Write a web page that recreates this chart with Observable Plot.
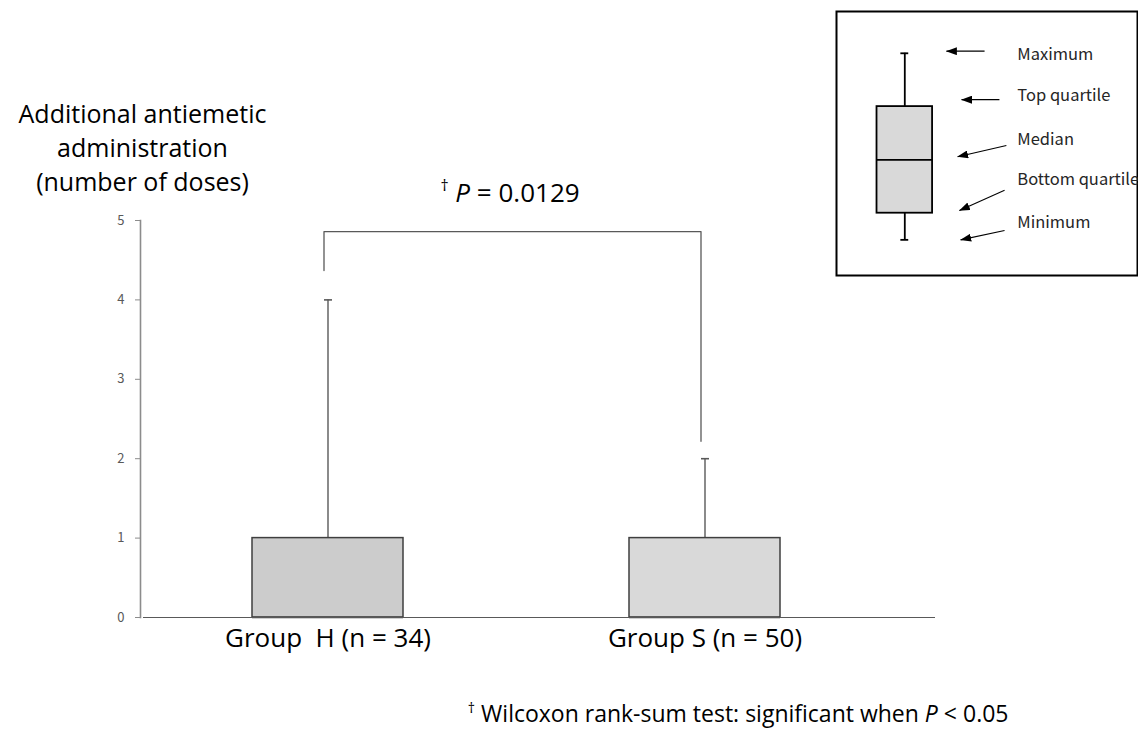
<!DOCTYPE html>
<html>
<head>
<meta charset="utf-8">
<script src="https://cdn.jsdelivr.net/npm/d3@7"></script>
<script src="https://cdn.jsdelivr.net/npm/@observablehq/plot@0.6"></script>
<style>
  html, body { margin: 0; padding: 0; background: #fff; }
  #wrap { position: relative; width: 1138px; height: 741px; overflow: hidden; background: #fff; }
  #main { position: absolute; left: 0; top: 0; }
  #legend { position: absolute; left: 835px; top: 10px; }
  svg text { white-space: pre; }
</style>
</head>
<body>
<div id="wrap"><div id="main"></div><div id="legend"></div></div>
<script>
// ---------- data ----------
const groups = ["Group  H (n = 34)", "Group S (n = 50)"];
const mins = [0, 0];
const q1s = [0, 0];
const medians = [0, 0];
const q3s = [1, 1];
const maxs = [4, 2];
const boxFills = ["#cccccc", "#d9d9d9"];
const yTicks = [0, 1, 2, 3, 4, 5];

// significance bracket (y in data units: left end, top, top, right end)
const bracketGroups = [groups[0], groups[0], groups[1], groups[1]];
const bracketValues = [4.37, 4.86, 4.86, 2.22];
const pValueText = "† P = 0.0129";
const yLabelText = "Additional antiemetic\nadministration\n(number of doses)";
const footnoteText = "† Wilcoxon rank-sum test: significant when P < 0.05";

// schematic legend (box-plot key), values in schematic units
const legendNames = ["Maximum", "Top quartile", "Median", "Bottom quartile", "Minimum"];
const legendStats = [4, 3, 2, 1, 0.5];
const legendTailX = [4.92, 5.41, 5.64, 5.58, 5.58];
const legendTailY = [4.04, 3.13, 2.27, 1.43, 0.675];
const legendTipX = [3.66, 4.16, 4.03, 4.09, 4.13];
const legendTipY = [4.04, 3.13, 2.06, 1.05, 0.50];
const legendTextY = [3.98, 3.21, 2.38, 1.62, 0.83];

// ---------- tables ----------
const stats = groups.map((g, i) => ({
  group: g, min: mins[i], q1: q1s[i], median: medians[i], q3: q3s[i], max: maxs[i], fill: boxFills[i]
}));
const bracket = bracketGroups.map((g, i) => ({group: g, value: bracketValues[i]}));

const font = "'Open Sans', sans-serif";
const smallFont = "'Noto Sans CJK JP', 'Noto Sans', sans-serif";

const main = Plot.plot({
  width: 1138,
  height: 741,
  marginTop: 220,
  marginBottom: 124,
  marginLeft: 143,
  marginRight: 203,
  style: {fontFamily: font, fontSize: "26px", overflow: "visible", background: "white"},
  x: {type: "band", domain: groups, paddingInner: 0.6, paddingOuter: 0.35, align: 0.413, axis: null},
  y: {domain: [0, 5], axis: null, label: null},
  color: {type: "identity"},
  marks: [
    Plot.frame({anchor: "left", dx: -3, stroke: "#8c8c8c", strokeWidth: 1.6}),
    Plot.axisY({ticks: yTicks, tickFormat: "d", tickSize: 5, tickPadding: 11, dx: -3, fontSize: 13,
      fontFamily: smallFont, stroke: "#8c8c8c", fill: "#595959", label: null}),
    Plot.axisX({tickSize: 0, tickPadding: 11, fontSize: 26, fill: "#000", label: null, lineAnchor: "top"}),
    Plot.ruleX(stats, {x: "group", y1: "q3", y2: "max", stroke: "#595959", strokeWidth: 1.4}),
    Plot.ruleX(stats, {x: "group", y1: "min", y2: "q1", stroke: "#595959", strokeWidth: 1.4}),
    Plot.tickY(stats, {x: "group", y: "max", insetLeft: 72, insetRight: 71, stroke: "#595959", strokeWidth: 1.6}),
    Plot.barY(stats, {x: "group", y1: "q1", y2: "q3", fill: "fill", stroke: "#3f3f3f", strokeWidth: 1.5}),
    Plot.tickY(stats, {x: "group", y: "median", stroke: "#3f3f3f", strokeWidth: 1.5}),
    Plot.ruleY([0], {stroke: "#595959", strokeWidth: 1.2}),
    Plot.line(bracket, {x: "group", y: "value", dx: -4, stroke: "#595959", strokeWidth: 1.3}),
    Plot.text([pValueText], {x: () => groups[0], y: () => 5.335, dx: 182, fontSize: 26, fill: "#000"}),
    Plot.text([yLabelText], {frameAnchor: "top-left", dx: -1, dy: -122, lineAnchor: "top",
      textAnchor: "middle", lineHeight: 1.36, fontSize: 25, fill: "#000"}),
    Plot.text([footnoteText], {frameAnchor: "bottom-right", dx: 73, dy: 104, textAnchor: "end",
      fontSize: 23, fill: "#000"})
  ]
});
document.getElementById("main").appendChild(main);

function richify(svg, content, parts) {
  const t = Array.from(svg.querySelectorAll("text")).find(el => el.textContent === content);
  if (!t) return;
  t.textContent = "";
  for (const p of parts) {
    const ts = document.createElementNS("http://www.w3.org/2000/svg", "tspan");
    ts.textContent = p.t;
    if (p.italic) ts.setAttribute("font-style", "italic");
    if (p.sup) { ts.setAttribute("font-size", "0.62em"); ts.setAttribute("baseline-shift", "super"); }
    t.appendChild(ts);
  }
}
richify(main, pValueText, [{t: "†", sup: true}, {t: " "}, {t: "P", italic: true}, {t: " = 0.0129"}]);
richify(main, footnoteText, [{t: "†", sup: true}, {t: " Wilcoxon rank-sum test: significant when "}, {t: "P", italic: true}, {t: " < 0.05"}]);

// ---------- legend ----------
const lx = 2.287, lhw = 0.917, capHw = 0.13;
const legendBox = [{x1: lx - lhw, x2: lx + lhw, y1: legendStats[3], y2: legendStats[1], median: legendStats[2],
  max: legendStats[0], min: legendStats[4], q3: legendStats[1], q1: legendStats[3]}];
const legendArrows = legendNames.map((n, i) => ({
  name: n, x1: legendTailX[i], y1: legendTailY[i], x2: legendTipX[i], y2: legendTipY[i], ty: legendTextY[i]
}));

const legend = Plot.plot({
  width: 303,
  height: 266,
  marginTop: 1, marginRight: 1, marginBottom: 1, marginLeft: 1,
  style: {fontFamily: smallFont, overflow: "visible", background: "white"},
  x: {domain: [0, 10], range: [0, 303], axis: null},
  y: {domain: [0, 4], range: [256, 42.8], axis: null},
  marks: [
    Plot.frame({stroke: "#000", strokeWidth: 2}),
    Plot.ruleX(legendBox, {x: () => lx, y1: "q3", y2: "max", stroke: "#000", strokeWidth: 1.8}),
    Plot.ruleX(legendBox, {x: () => lx, y1: "min", y2: "q1", stroke: "#000", strokeWidth: 1.8}),
    Plot.ruleY(legendBox, {y: "max", x1: () => lx - capHw, x2: () => lx + capHw, stroke: "#000", strokeWidth: 1.8}),
    Plot.ruleY(legendBox, {y: "min", x1: () => lx - capHw, x2: () => lx + capHw, stroke: "#000", strokeWidth: 1.8}),
    Plot.rect(legendBox, {x1: "x1", x2: "x2", y1: "y1", y2: "y2", fill: "#d9d9d9", stroke: "#000", strokeWidth: 1.8}),
    Plot.ruleY(legendBox, {y: "median", x1: "x1", x2: "x2", stroke: "#000", strokeWidth: 1.8}),
    Plot.link(legendArrows, {x1: "x1", y1: "y1", x2: "x2", y2: "y2", stroke: "#000", strokeWidth: 1.1}),
    Plot.text(legendArrows, {x: () => 6.0, y: "ty", text: "name", textAnchor: "start", fontSize: 16.5, fill: "#262626"})
  ]
});
document.getElementById("legend").appendChild(legend);

// filled arrowheads
(function addHeads(svg) {
  const ns = "http://www.w3.org/2000/svg";
  const defs = document.createElementNS(ns, "defs");
  const marker = document.createElementNS(ns, "marker");
  marker.setAttribute("id", "filled-head");
  marker.setAttribute("viewBox", "0 0 11 8");
  marker.setAttribute("refX", "10.5");
  marker.setAttribute("refY", "4");
  marker.setAttribute("markerWidth", "11");
  marker.setAttribute("markerHeight", "8");
  marker.setAttribute("markerUnits", "userSpaceOnUse");
  marker.setAttribute("orient", "auto");
  const p = document.createElementNS(ns, "path");
  p.setAttribute("d", "M0,0 L11,4 L0,8 Z");
  p.setAttribute("fill", "#000");
  marker.appendChild(p);
  defs.appendChild(marker);
  svg.insertBefore(defs, svg.firstChild);
  svg.querySelectorAll('g[aria-label="link"] path, g[aria-label="link"] line').forEach(el => el.setAttribute("marker-end", "url(#filled-head)"));
})(legend);
</script>
</body>
</html>
